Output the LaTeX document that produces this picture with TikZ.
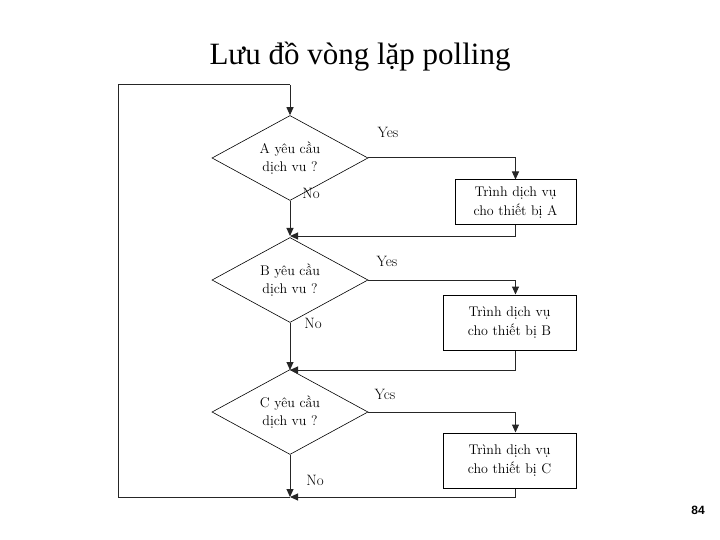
\documentclass[tikz,border=0pt]{standalone}
\usepackage{fontspec}
\newfontfamily\titlefont{Liberation Serif}
\newfontfamily\numfont{Liberation Sans}
\usetikzlibrary{shapes.geometric,arrows.meta}
\begin{document}
\begin{tikzpicture}[x=1pt,y=-1pt,
  dia/.style={draw,diamond,aspect=1.85,minimum width=156pt,minimum height=85pt,inner sep=0pt,align=center,font=\fontsize{14}{18}\selectfont,line width=0.6pt},
  box/.style={draw,rectangle,align=center,font=\fontsize{14}{19}\selectfont,line width=1pt},
  lab/.style={font=\fontsize{15}{17}\selectfont},
  ln/.style={line width=1pt,draw=black!85},
  arr/.style={ln,-{Triangle[length=8pt,width=7pt]}}]
\useasboundingbox (0,0) rectangle (720,540);
\node[font=\titlefont\fontsize{31}{34}\selectfont] (title) at (360,57) {Lưu đồ vòng lặp polling};
\node[font=\numfont\bfseries\fontsize{12}{14}\selectfont] (num) at (698,510) {84};

\node[dia] (A) at (290,158) {A yêu cầu\\dịch vu ?};
\node[dia] (B) at (290,280) {B yêu cầu\\dịch vu ?};
\node[dia] (C) at (290,412) {C yêu cầu\\dịch vu ?};
\node[box,minimum width=121pt,minimum height=45pt] (RA) at (515.5,202.5) {Trình dịch vụ\\cho thiết bị A};
\node[box,minimum width=133pt,minimum height=55pt] (RB) at (509.5,322.5) {Trình dịch vụ\\cho thiết bị B};
\node[box,minimum width=133pt,minimum height=55pt] (RC) at (509.5,460.5) {Trình dịch vụ\\cho thiết bị C};

\coordinate (jA) at (290,236);
\coordinate (jB) at (290,370);
\coordinate (jC) at (290,497);
\coordinate (top) at (290,85);
\coordinate (lt) at (118,85);
\coordinate (lb) at (118,497);

\draw[arr] (top) -- (A.north);
\draw[arr] (A.south) -- (jA);
\draw[arr] (B.south) -- (jB);
\draw[arr] (C.south) -- (jC);
\draw[arr] (A.east) -| (RA.north);
\draw[arr] (B.east) -| ([xshift=6pt]RB.north);
\draw[arr] (C.east) -| ([xshift=6pt]RC.north);
\draw[arr] (RA.south) |- (jA);
\draw[arr] ([xshift=6pt]RB.south) |- (jB);
\draw[arr] ([xshift=6pt]RC.south) |- (jC);
\draw[ln] (jC) -- (lb) -- (lt) -- (top);

\node[lab] (yA) at (388,132) {Yes};
\node[lab] (yB) at (387,261) {Yes};
\node[lab] (yC) at (385,394) {Ycs};
\node[lab] (nA) at (311,193) {No};
\node[lab] (nB) at (313,323) {No};
\node[lab] (nC) at (315,480) {No};
\end{tikzpicture}
\end{document}
